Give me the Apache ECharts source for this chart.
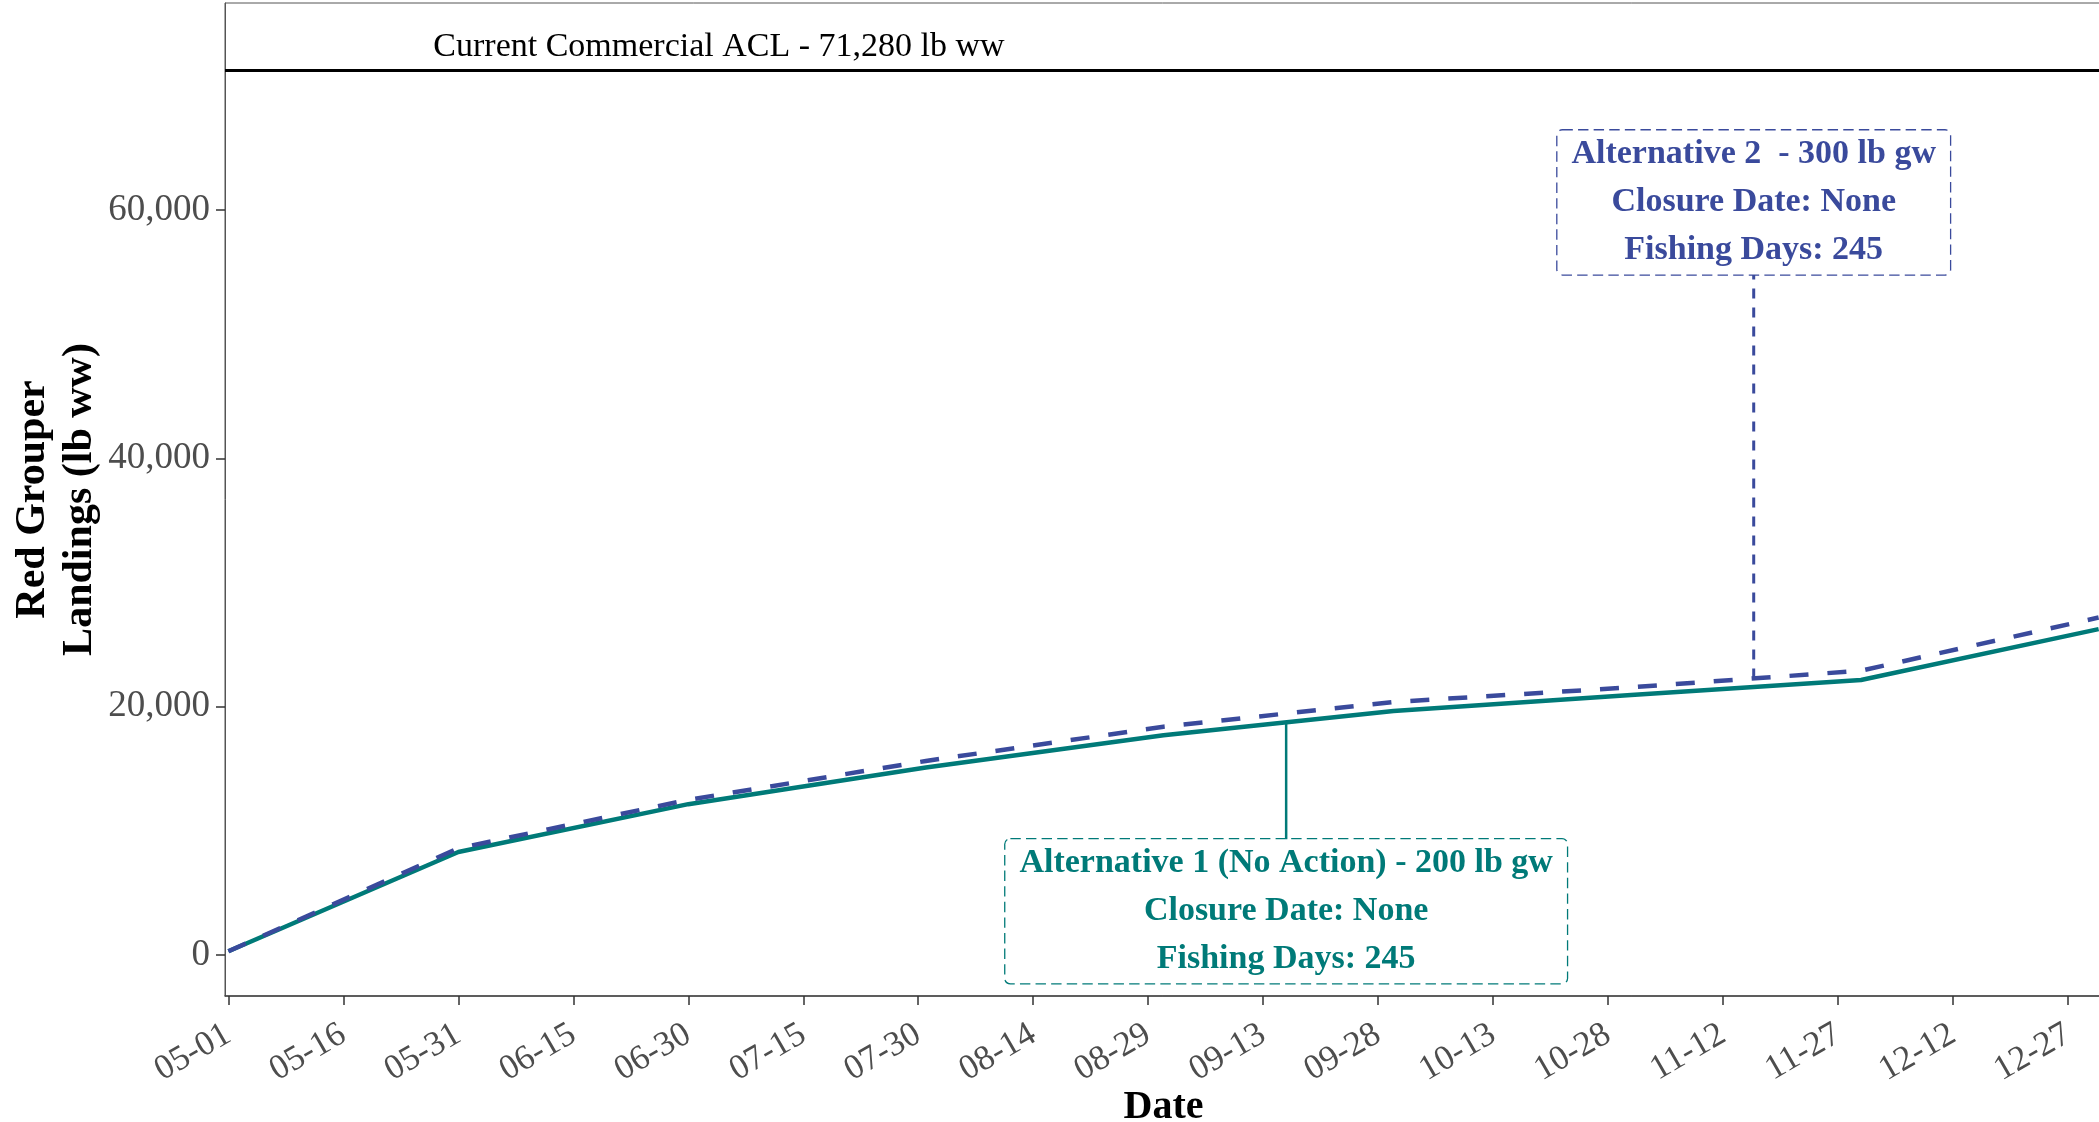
<!DOCTYPE html>
<html>
<head>
<meta charset="utf-8">
<script src="https://cdn.jsdelivr.net/npm/echarts@6/dist/echarts.min.js"></script>
<style>
  html, body { margin: 0; padding: 0; background: #fff; }
  #main { width: 2099px; height: 1122px; }
</style>
</head>
<body>
<div id="main"></div>
<script>
// cumulative landings, month-end points (days counted from May 1)
const days = [0, 30, 60, 91, 122, 152, 183, 213, 244];
const alt1Landings = [300, 8300, 12150, 15100, 17700, 19650, 20950, 22150, 26250];
const alt2Landings = [300, 8600, 12500, 15630, 18390, 20380, 21560, 22900, 27180];

const xTickDays = [0, 15, 30, 45, 60, 75, 90, 105, 120, 135, 150, 165, 180, 195, 210, 225, 240];
const xTickLabels = ['05-01', '05-16', '05-31', '06-15', '06-30', '07-15', '07-30', '08-14',
  '08-29', '09-13', '09-28', '10-13', '10-28', '11-12', '11-27', '12-12', '12-27'];
const yTickValues = [0, 20000, 40000, 60000];

const aclValue = 71280;
const aclText = 'Current Commercial ACL - 71,280 lb ww';
const alt1Text = ['Alternative 1 (No Action) - 200 lb gw', 'Closure Date: None', 'Fishing Days: 245'];
const alt2Text = ['Alternative 2  - 300 lb gw', 'Closure Date: None', 'Fishing Days: 245'];

// annotation anchors (day, landings)
const aclLabelAt = [64, 73100];
const alt1LabelAt = [138, 3530];
const alt2LabelAt = [199, 60620];

const TEAL = '#007A78';
const BLUE = '#3A4A9C';
const FONT = '"Liberation Serif", "Times New Roman", serif';

function interp(xs, ys, x) {
  for (let i = 1; i < xs.length; i++) {
    if (x <= xs[i]) {
      const t = (x - xs[i - 1]) / (xs[i] - xs[i - 1]);
      return ys[i - 1] + t * (ys[i] - ys[i - 1]);
    }
  }
  return ys[ys.length - 1];
}

const chart = echarts.init(document.getElementById('main'), null, { renderer: 'canvas' });

function boxLabel(lines, color) {
  return {
    show: true,
    position: 'inside',
    formatter: lines.join('\n'),
    color: color,
    fontFamily: FONT,
    fontWeight: 'bold',
    fontSize: 34,
    lineHeight: 48,
    align: 'center',
    backgroundColor: '#fff',
    borderColor: color,
    borderWidth: 1.3,
    borderType: 'dashed',
    borderRadius: 5,
    padding: [0, 14]
  };
}

chart.setOption({
  animation: false,
  backgroundColor: '#fff',
  grid: {
    left: 225, top: 3, right: -3, bottom: 126,
    outerBoundsMode: 'none',
    containLabel: false,
    show: true, borderColor: '#555', borderWidth: 1
  },
  xAxis: {
    type: 'value',
    min: -0.444,
    max: 244.44,
    name: 'Date',
    nameLocation: 'middle',
    nameGap: 92,
    nameMoveOverlap: false,
    nameTextStyle: { fontFamily: FONT, fontWeight: 'bold', fontSize: 40, color: '#000' },
    splitLine: { show: false },
    axisLine: { show: true, onZero: false, lineStyle: { color: '#444', width: 1.5 } },
    axisTick: { show: true, length: 9, customValues: xTickDays, lineStyle: { color: '#333', width: 1.5 } },
    axisLabel: {
      customValues: xTickDays,
      rotate: 30,
      margin: 36,
      fontFamily: FONT,
      fontSize: 35,
      color: '#4D4D4D',
      formatter: v => xTickLabels[xTickDays.indexOf(Math.round(v))] || ''
    }
  },
  yAxis: {
    type: 'value',
    min: -3302,
    max: 76681,
    name: 'Red Grouper\nLandings (lb ww)',
    nameLocation: 'middle',
    nameRotate: 90,
    nameGap: 121,
    nameMoveOverlap: false,
    nameTextStyle: { fontFamily: FONT, fontWeight: 'bold', fontSize: 42, lineHeight: 47, color: '#000' },
    splitLine: { show: false },
    axisLine: { show: true, onZero: false, lineStyle: { color: '#555', width: 1 } },
    axisTick: { show: true, length: 9, customValues: yTickValues, lineStyle: { color: '#333', width: 1.5 } },
    axisLabel: {
      customValues: yTickValues,
      margin: 15,
      fontFamily: FONT,
      fontSize: 37,
      color: '#4D4D4D',
      formatter: v => Number(v).toLocaleString('en-US')
    }
  },
  series: [
    {
      name: 'Alternative 1',
      type: 'line',
      data: days.map((d, i) => [d, alt1Landings[i]]),
      symbol: 'none',
      lineStyle: { color: TEAL, width: 4.5 },
      z: 3,
      markLine: {
        silent: true,
        symbol: 'none',
        label: { show: false },
        lineStyle: { color: '#000', width: 3, type: 'solid' },
        data: [{ yAxis: aclValue }]
      }
    },
    {
      name: 'Alternative 2',
      type: 'line',
      data: days.map((d, i) => [d, alt2Landings[i]]),
      symbol: 'none',
      lineStyle: { color: BLUE, width: 4.5, type: [19, 19] },
      z: 4
    },
    {
      name: 'alt1 pointer',
      type: 'line',
      data: [[alt1LabelAt[0], interp(days, alt1Landings, alt1LabelAt[0])], alt1LabelAt],
      symbol: 'none',
      lineStyle: { color: TEAL, width: 2.5 },
      z: 2
    },
    {
      name: 'alt2 pointer',
      type: 'line',
      data: [[alt2LabelAt[0], interp(days, alt2Landings, alt2LabelAt[0])], alt2LabelAt],
      symbol: 'none',
      lineStyle: { color: BLUE, width: 3, type: [10, 9] },
      z: 2
    },
    {
      name: 'labels',
      type: 'scatter',
      symbolSize: 1,
      itemStyle: { color: 'rgba(0,0,0,0)', opacity: 1 },
      z: 10,
      silent: true,
      labelLayout: { hideOverlap: false },
      data: [
        {
          value: aclLabelAt,
          label: {
            show: true, position: 'inside', formatter: aclText,
            fontFamily: FONT, fontSize: 34, color: '#000'
          }
        },
        { value: alt1LabelAt, label: boxLabel(alt1Text, TEAL) },
        { value: alt2LabelAt, label: boxLabel(alt2Text, BLUE) }
      ]
    }
  ]
});
</script>
</body>
</html>
